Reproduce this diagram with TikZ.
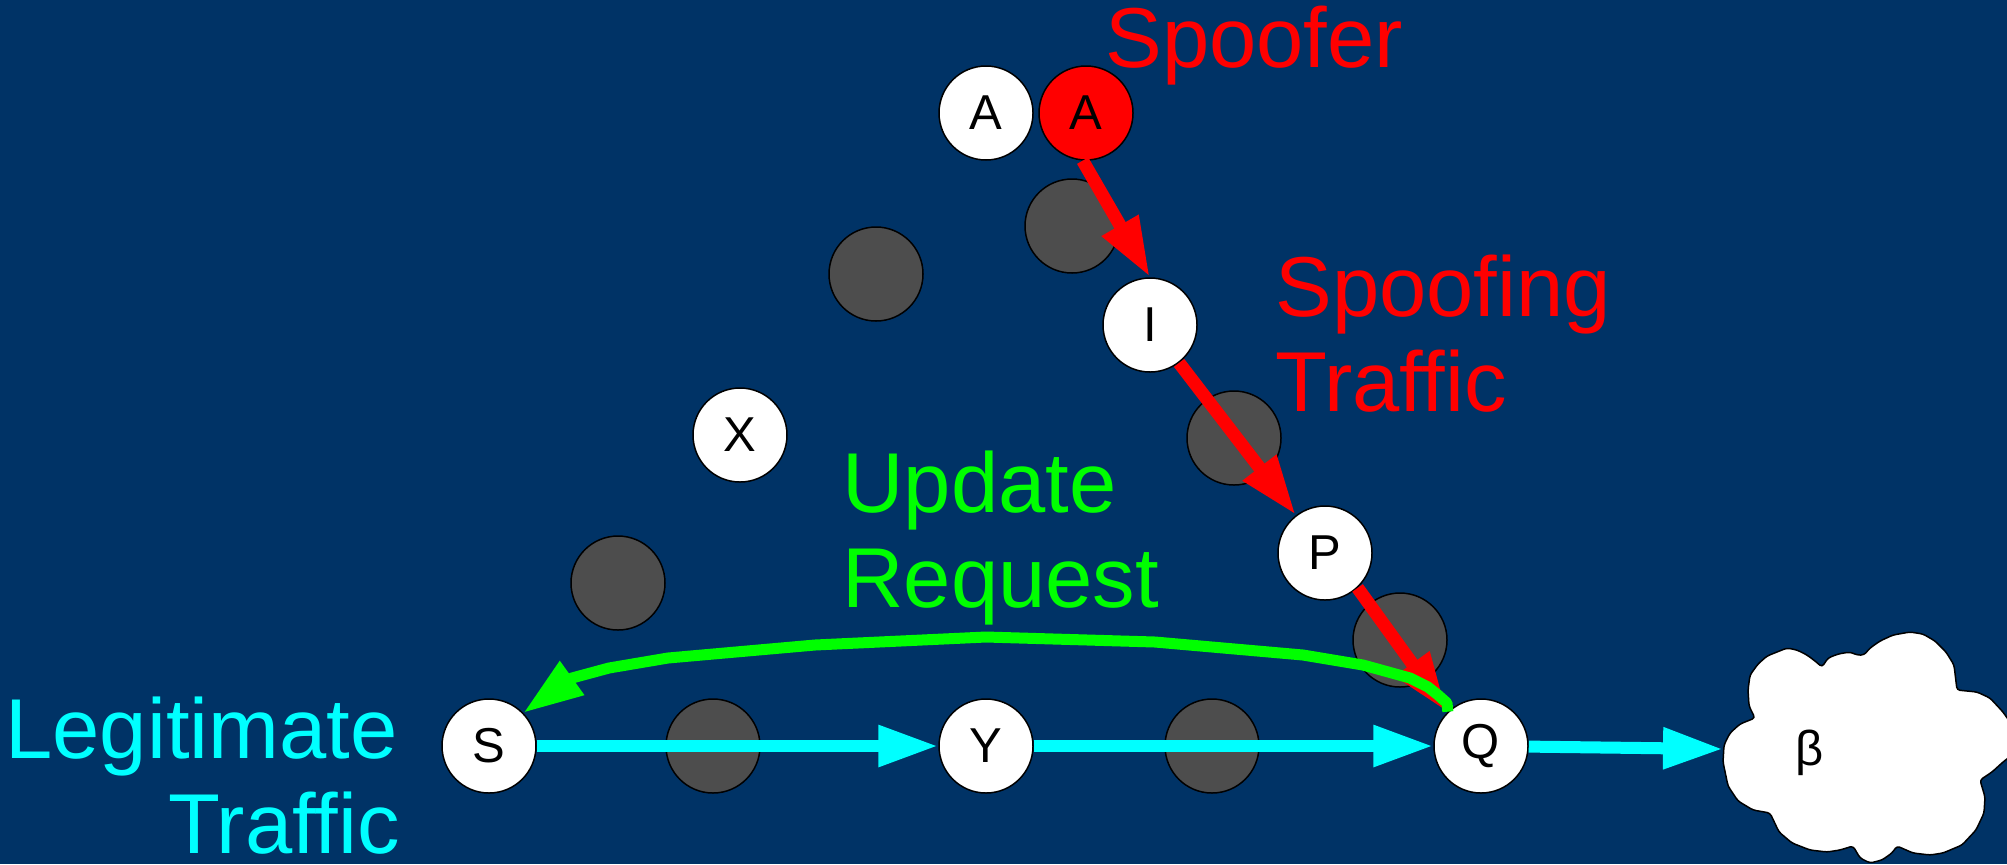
\documentclass[tikz,border=0pt]{standalone}
\usepackage{fontspec}
\setmainfont{Liberation Sans}
\usetikzlibrary{arrows.meta}
\definecolor{bg}{RGB}{0,51,102}
\definecolor{grayc}{RGB}{77,77,77}
\definecolor{cyanc}{RGB}{0,255,255}
\definecolor{greenc}{RGB}{0,255,0}
\definecolor{redc}{RGB}{255,0,0}
\begin{document}
\begin{tikzpicture}[x=0.5pt,y=-0.5pt,
  wnode/.style={circle,draw=black,line width=0.75pt,fill=white,minimum size=47pt,inner sep=0pt,font=\fontsize{24.5pt}{28pt}\selectfont},
  rnode/.style={wnode,fill=redc},
  gnode/.style={circle,draw=black,line width=0.75pt,fill=grayc,minimum size=47pt,inner sep=0pt},
  lbl/.style={inner sep=0pt,font=\fontsize{42.5pt}{47.5pt}\selectfont},
  headtip/.style={-{Triangle[length=30pt,width=19.5pt]}},
  redarr/.style={headtip,draw=redc,line width=6.5pt},
  cyanarr/.style={headtip,draw=cyanc,line width=6pt},
  greenarr/.style={headtip,draw=greenc,line width=5.5pt,line join=round},
]
\fill[bg] (0,0) rectangle (2007,864);
\useasboundingbox (0,0) rectangle (2007,864);

% nodes
\node[wnode] (Aw) at (986,113) {A};
\node[rnode] (Ar) at (1086,113) {A};
\node[gnode] (g1) at (1072,226) {};
\node[gnode] (g2) at (876,274) {};
\node[wnode] (I) at (1150,325) {I};
\node[wnode] (X) at (740,435) {X};
\node[gnode] (g3) at (1234,438) {};
\node[wnode] (P) at (1325,553) {P};
\node[gnode] (g4) at (618,583) {};
\node[gnode] (g5) at (1400,640) {};
\node[wnode] (S) at (489,746) {S};
\node[gnode] (g6) at (713,746) {};
\node[wnode] (Y) at (986,746) {Y};
\node[gnode] (g7) at (1212,746) {};
\node[wnode] (Q) at (1481,746) {Q};

% cloud
\draw[fill=white,draw=black,line width=0.75pt,rounded corners=1.5pt]
  (1723,762) -- (1724,745) -- (1730,733) -- (1740,724) -- (1755,718) -- (1749,706) -- (1748,690) -- (1750,675)
  -- (1758,664) -- (1767,656) -- (1787,648) -- (1797,650) -- (1807,655) -- (1815,661) -- (1822,667) -- (1828,658)
  -- (1838,654) -- (1850,652) -- (1857,655) -- (1864,655) -- (1870,648) -- (1880,641) -- (1893,635) -- (1910,632)
  -- (1923,634) -- (1935,641) -- (1946,652) -- (1954,665) -- (1957,690) -- (1977,692) -- (1990,698)
  -- (2003,712) -- (2012,725) -- (2012,755) -- (2003,762) -- (1992,772) -- (1980,780)
  -- (1985,797) -- (1984,813) -- (1976,830) -- (1962,845) -- (1943,853) -- (1930,855)
  -- (1913,853) -- (1897,846) -- (1892,853) -- (1882,860) -- (1870,863) -- (1860,858)
  -- (1853,846) -- (1840,850) -- (1827,852) -- (1810,850) -- (1792,843) -- (1779,832)
  -- (1770,813) -- (1753,810) -- (1738,801) -- (1728,786) -- cycle;
\node[inner sep=0pt,anchor=base,font=\fontsize{24.5pt}{28pt}\selectfont] (beta) at (1810,765) {β};
\coordinate (cloudin) at (1723,749);

% connectors
\draw[redarr] (Ar.266) -- (I.90);
\draw[redarr] (I) -- (P);
\draw[redarr] (P.313) -- (Q.135);
\draw[cyanarr] (S) -- (Y);
\draw[cyanarr] (Y) -- (Q);
\draw[cyanarr] (Q) -- (cloudin);
\draw[greenarr] (Q.134) -- (1447,703) -- (1438,695) -- (1428,687) -- (1410,678)
  -- (1363,665) -- (1303,655) -- (1155,642) -- (986,637) -- (815,645) -- (668,658)
  -- (609,668) -- (572,678) -- (S.44);

% labels
\node[lbl,text=redc,anchor=base west] (spoofer) at (1105,67) {Spoofer};
\node[lbl,text=redc,anchor=base west] (st1) at (1275,316) {Spoofing};
\node[lbl,text=redc,anchor=base west] (st2) at (1275,411) {Traffic};
\node[lbl,text=greenc,anchor=base west] (ur1) at (842,512) {Update};
\node[lbl,text=greenc,anchor=base west] (ur2) at (842,607) {Request};
\node[lbl,text=cyanc,anchor=base east] (lt1) at (398,758) {Legitimate};
\node[lbl,text=cyanc,anchor=base east,text depth=0pt] (lt2) at (400,853) {Traffic};
\end{tikzpicture}
\end{document}
